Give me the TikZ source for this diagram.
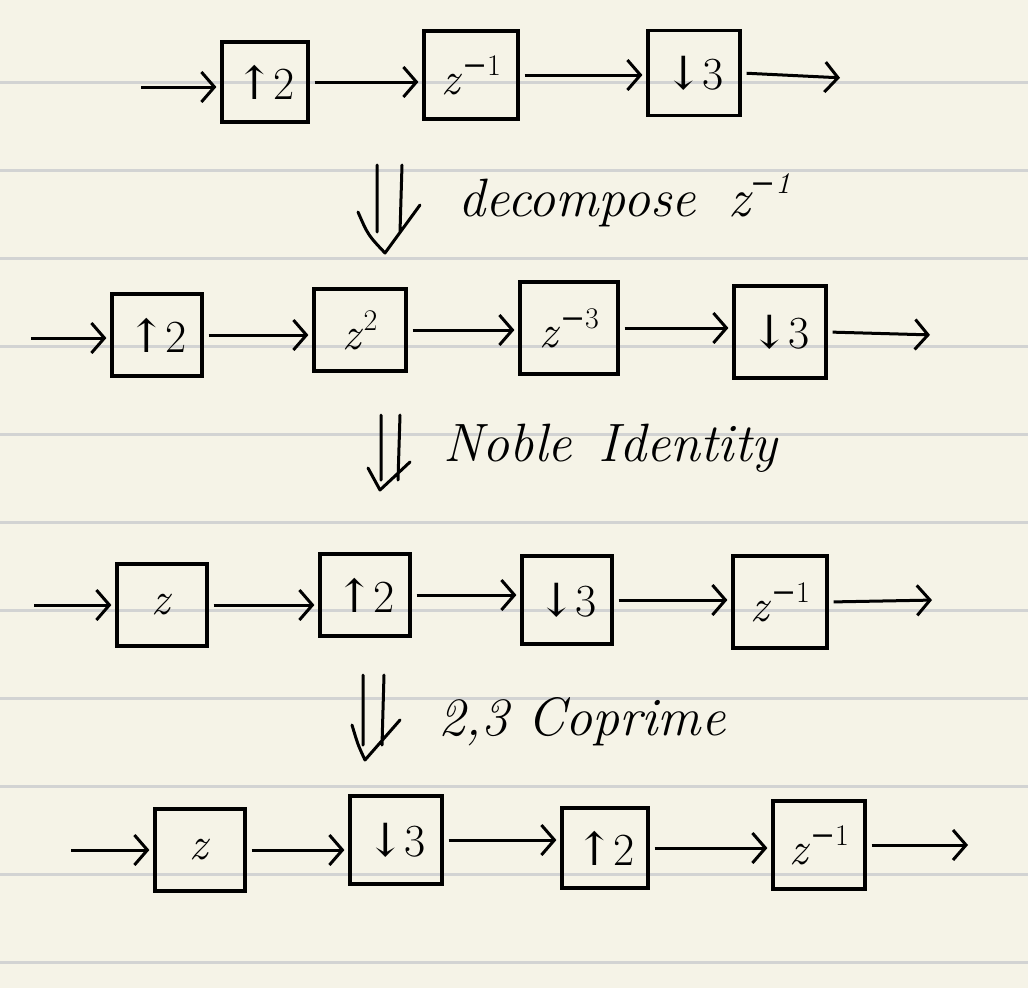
\documentclass[tikz,border=0pt]{standalone}
\usepackage{fontspec}
\newfontfamily\arrowfont{DejaVu Serif}
\usetikzlibrary{arrows.meta}
\definecolor{paper}{HTML}{F5F3E7}
\definecolor{rule}{HTML}{D2D3D3}
\newcommand\zpow[1]{\textit{z}\raisebox{0.42em}{\fontsize{30}{32}\selectfont #1}}
\newcommand\mn{{\arrowfont −}}
\newcommand\upbox{{\arrowfont ↑}2}
\newcommand\downbox{{\arrowfont ↓}3}
\begin{document}
\begin{tikzpicture}[x=1pt,y=-1pt,
  blockbox/.style={draw, line width=3.2pt, minimum width=90pt, minimum height=82pt, inner sep=0pt, font=\fontsize{46}{54}\selectfont},
  flow/.style={line width=3pt, -{Straight Barb[length=13pt,width=30pt,line width=3pt]}, shorten >=4pt, shorten <=5pt},
  dbl/.style={line width=3pt, line cap=round, line join=round},
  note/.style={font=\fontsize{54}{60}\selectfont\itshape, anchor=west}]
\fill[paper] (0,0) rectangle (1028,988);
\useasboundingbox (0,0) rectangle (1028,988);
\foreach \y in {82,170,258,346,434,522,610,698,786,874,962}
  \draw[rule, line width=3pt] (0,\y) -- (1028,\y);

% Row 1
\coordinate (i1) at (136,87);
\node[blockbox, minimum width=86pt, minimum height=80pt] (a1) at (265,82) {\upbox};
\node[blockbox, minimum width=94pt, minimum height=88pt] (b1) at (471,75) {\zpow{\mn1}};
\node[blockbox, minimum width=92pt, minimum height=85pt] (c1) at (694,73) {\downbox};
\coordinate (o1) at (844,78);
\draw[flow] (i1) -- (a1.west|-i1);
\draw[flow] (a1.east) -- (b1.west|-a1.east);
\draw[flow] (b1.east) -- (c1.west|-b1.east);
\draw[flow] (c1.east) -- (o1);

% Row 2
\coordinate (i2) at (26,338);
\node[blockbox] (a2) at (157,335) {\upbox};
\node[blockbox, minimum width=92pt] (b2) at (360,330) {\zpow{2}};
\node[blockbox, minimum width=98pt, minimum height=92pt] (c2) at (569,328) {\zpow{\mn3}};
\node[blockbox, minimum width=92pt, minimum height=92pt] (d2) at (780,332) {\downbox};
\coordinate (o2) at (934,335);
\draw[flow] (i2) -- (a2.west|-i2);
\draw[flow] (a2.east) -- (b2.west|-a2.east);
\draw[flow] (b2.east) -- (c2.west|-b2.east);
\draw[flow] (c2.east) -- (d2.west|-c2.east);
\draw[flow] (d2.east) -- (o2);

% Row 3
\coordinate (i3) at (29,605);
\node[blockbox] (a3) at (162,605) {\textit{z}};
\node[blockbox] (b3) at (365,595) {\upbox};
\node[blockbox, minimum height=88pt] (c3) at (567,600) {\downbox};
\node[blockbox, minimum width=94pt, minimum height=92pt] (d3) at (780,602) {\zpow{\mn1}};
\coordinate (o3) at (936,600);
\draw[flow] (i3) -- (a3.west|-i3);
\draw[flow] (a3.east) -- (b3.west|-a3.east);
\draw[flow] (b3.east) -- (c3.west|-b3.east);
\draw[flow] (c3.east) -- (d3.west|-c3.east);
\draw[flow] (d3.east) -- (o3);

% Row 4
\coordinate (i4) at (66,850);
\node[blockbox] (a4) at (200,850) {\textit{z}};
\node[blockbox, minimum width=92pt, minimum height=88pt] (b4) at (396,840) {\downbox};
\node[blockbox, minimum width=86pt, minimum height=80pt] (c4) at (605,848) {\upbox};
\node[blockbox, minimum width=92pt, minimum height=88pt] (d4) at (819,845) {\zpow{\mn1}};
\coordinate (o4) at (972,845);
\draw[flow] (i4) -- (a4.west|-i4);
\draw[flow] (a4.east) -- (b4.west|-a4.east);
\draw[flow] (b4.east) -- (c4.west|-b4.east);
\draw[flow] (c4.east) -- (d4.west|-c4.east);
\draw[flow] (d4.east) -- (o4);

% Transformation steps
\draw[dbl] (377,165) -- (377,232) (402,165) -- (400,232) (358,212) .. controls (368,235) .. (385,253) -- (420,205);
\node[note] (t1) at (455,200) {decompose\hspace{0.6em}\zpow{\mn1}};

\draw[dbl] (381,415) -- (381,480) (400,415) -- (398,480) (368,468) -- (380,490) -- (410,462);
\node[note] (t2) at (440,448) {Noble\hspace{0.5em}Identity};

\draw[dbl] (363,675) -- (363,745) (384,675) -- (382,745) (352,725) .. controls (358,745) .. (365,760) -- (400,720);
\node[note] (t3) at (435,722) {2,3 Coprime};
\end{tikzpicture}
\end{document}
